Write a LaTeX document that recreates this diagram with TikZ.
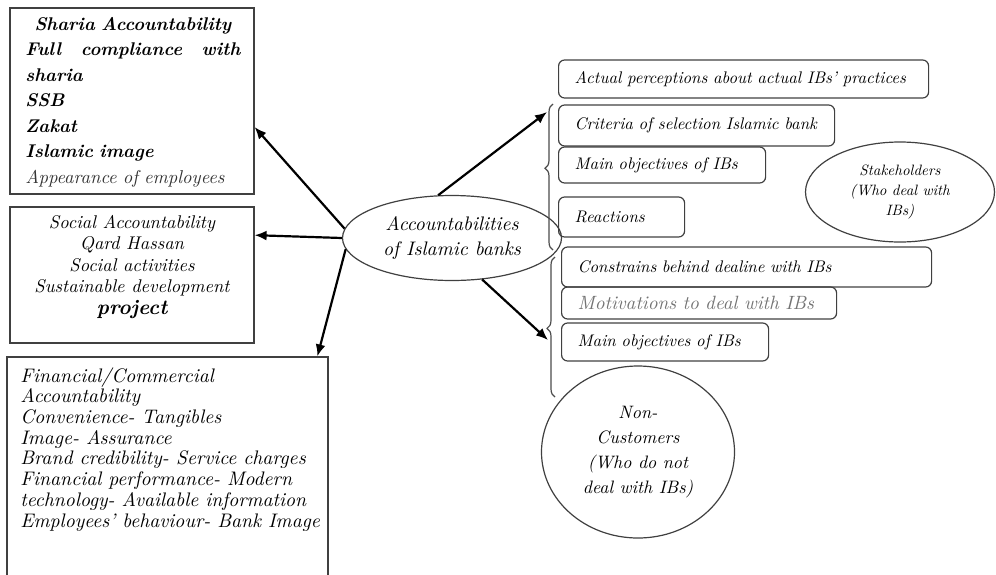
\documentclass[tikz,border=0pt]{standalone}
\usepackage{fontspec}
\setmainfont{lmroman10-regular.otf}[ItalicFont=lmroman10-italic.otf,BoldFont=lmroman10-bold.otf,
  BoldItalicFont=lmroman10-bolditalic.otf]
\usepackage{tikz}
\usetikzlibrary{arrows.meta,positioning,shapes.geometric,decorations.pathreplacing}

\begin{document}
\begin{tikzpicture}[x=0.5pt,y=-0.5pt,
          sqbox/.style={draw=black!75,line width=0.6pt,rectangle,inner sep=0pt},
          txt/.style={inner sep=0pt},
          rbox/.style={draw=black!75,line width=0.6pt,rounded corners=3pt,anchor=west,align=left,
                       inner xsep=8pt,inner ysep=0pt,font=\fontsize{8.4}{10}\selectfont\itshape},
          oval/.style={draw=black!75,line width=0.6pt,ellipse,inner sep=0pt,align=center},
          arr/.style={-{Latex[length=6pt,width=5pt]},line width=1.1pt},
          brc/.style={draw=black!70,line width=0.6pt,decorate,decoration={brace,amplitude=4pt}}]
        \useasboundingbox (0,0) rectangle (996,574);
        % three accountability boxes on the left
        \node[sqbox,minimum width=122pt,minimum height=93pt] (sharia) at (132,101) {};
        \node[txt,anchor=north west,align=left,text width=107.5pt,
              font=\fontsize{9.2}{12.75}\selectfont\bfseries\itshape] (shariatxt) at (25,17)
              {\makebox[107.5pt][c]{Sharia Accountability}\\
               \makebox[107.5pt][s]{Full\hfill compliance\hfill with}\\
               sharia\\ SSB\\ Zakat\\ Islamic image\\
               {\mdseries\fontsize{9.3}{12.75}\selectfont\color{black!80}Appearance of employees}};
        \node[sqbox,minimum width=122pt,minimum height=68pt] (social) at (132,275) {};
        \node[txt,align=center,font=\fontsize{9.2}{10.75}\selectfont\itshape] (socialtxt) at (132,267)
              {Social Accountability\\ Qard Hassan\\ Social activities\\ Sustainable development\\
               {\bfseries\fontsize{10.5}{10.75}\selectfont project}};
        \node[sqbox,minimum width=160.5pt,minimum height=116.5pt] (fin) at (167.5,473.5) {};
        \node[txt,anchor=north west,align=left,font=\fontsize{9.8}{10.35}\selectfont\itshape] (fintxt) at (20,367)
              {Financial/Commercial\\ Accountability\\ Convenience- Tangibles\\ Image- Assurance\\
               Brand credibility- Service charges\\ Financial performance- Modern\\
               technology- Available information\\ Employees' behaviour- Bank Image};
        % centre
        \node[oval,minimum width=109.5pt,minimum height=42.5pt,font=\fontsize{9.8}{12.5}\selectfont\itshape]
              (acc) at (452,238) {Accountabilities\\of Islamic banks};
        % stakeholders side
        \node[rbox,text width=169pt,minimum height=19pt]   (actual)   at (558,79)    {Actual perceptions about actual IBs' practices};
        \node[rbox,text width=122pt,minimum height=20.5pt] (criteria) at (558,125.5) {Criteria of selection Islamic bank};
        \node[rbox,text width=87.5pt,minimum height=18pt]  (mainA)    at (558,165)   {Main objectives of IBs};
        \node[rbox,text width=47pt,minimum height=20pt]    (react)    at (558,217)   {Reactions};
        \node[oval,minimum width=94.5pt,minimum height=50pt,font=\fontsize{7.5}{10}\selectfont\itshape]
              (stake) at (900,192) {Stakeholders\\(Who deal with\\IBs)};
        % non-customers side
        \node[rbox,text width=169pt,minimum height=20pt]   (constr)   at (561,267)   {Constrains behind dealine with IBs};
        \node[rbox,text width=121.5pt,minimum height=16pt,text=black!55,font=\fontsize{9.6}{11}\selectfont\itshape]
              (motiv) at (561,303) {Motivations to deal with IBs};
        \node[rbox,text width=87.5pt,minimum height=19pt]  (mainB)    at (561,342)   {Main objectives of IBs};
        \node[oval,minimum width=96.5pt,minimum height=86pt,font=\fontsize{9}{12.5}\selectfont\itshape]
              (noncust) at (638,452) {Non-\\Customers\\(Who do not\\deal with IBs)};
        % braces
        \draw[brc,decoration={aspect=0.56}] (553,250) -- (553,104);
        \draw[brc,decoration={aspect=0.49}] (555,397) -- (555,257);
        % arrows
        \coordinate (upperend) at (547,112);
        \coordinate (lowerend) at (548,340);
        \draw[arr] (acc.175) -- (sharia.-12.5);
        \draw[arr] (acc.180) -- (social.18);
        \draw[arr] (acc.186) -- (fin.38);
        \draw[arr] (acc.108) -- (upperend);
        \draw[arr] (acc.-54) -- (lowerend);
      \end{tikzpicture}
\end{document}
